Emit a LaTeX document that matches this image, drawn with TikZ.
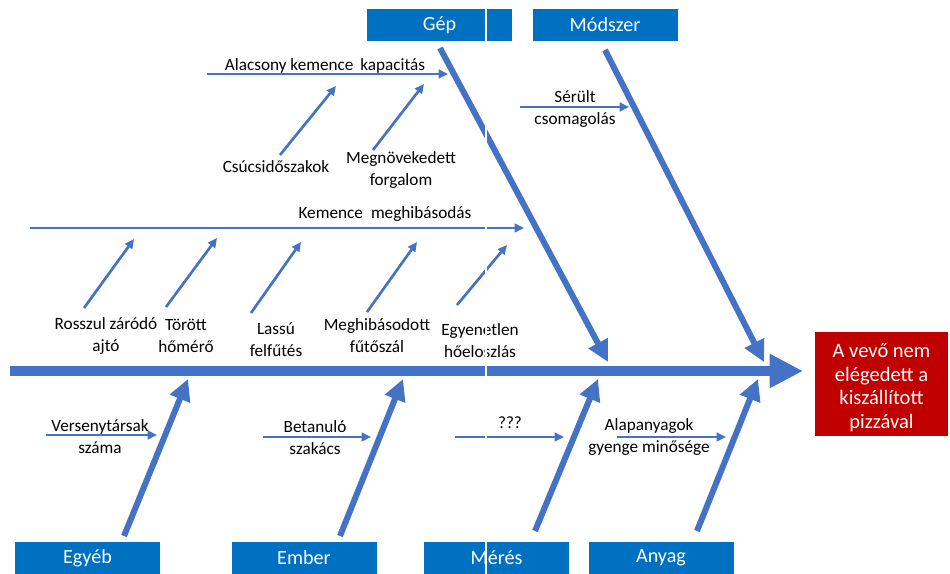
\documentclass[tikz,border=0pt]{standalone}
\usepackage{fontspec}
\setmainfont{Carlito}
\usetikzlibrary{arrows.meta}
\definecolor{bone}{HTML}{4472C4}
\definecolor{catblue}{HTML}{0070C0}
\definecolor{effectred}{HTML}{C00000}
\begin{document}
\begin{tikzpicture}[x=0.75pt,y=-0.75pt,
  catbox/.style={fill=catblue, text=white, inner sep=0pt,
    minimum width=108.75pt, minimum height=24.5pt,
    font=\fontsize{15.1}{17}\selectfont},
  effectbox/.style={fill=effectred, inner sep=0pt,
    minimum width=99.75pt, minimum height=78pt},
  effecttext/.style={text=white, inner sep=0pt, align=center,
    font=\fontsize{15.4}{17.6}\selectfont},
  lbl/.style={inner sep=0pt, align=center, font=\fontsize{12.9}{16.5}\selectfont},
  spine/.style={draw=bone, line width=7.5pt, -{Triangle[length=25pt,width=24pt]}},
  mainbone/.style={draw=bone, line width=4.5pt, -{Triangle[length=16pt,width=15.5pt]}},
  subarrow/.style={draw=bone, line width=2pt, -{Triangle[length=7pt,width=6.5pt]}}
]
\useasboundingbox (0,0) rectangle (950,574);

% ---- category boxes and effect ----
\node[catbox] (gep)     at (439.5,25)   {Gép};
\node[catbox] (modszer) at (605,25)     {Módszer};
\node[catbox] (egyeb)   at (87.5,558)   {Egyéb};
\node[catbox] (ember)   at (304,558)    {Ember};
\node[catbox] (meres)   at (496.5,558)  {Mérés};
\node[catbox] (anyag)   at (661,558)    {Anyag};
\node[effectbox] (effect) at (881.5,384) {};
\node[effecttext] (effectlbl) at (881.5,387.5)
  {A vevő nem\\elégedett a\\kiszállított\\pizzával};

% ---- spine ----
\coordinate (spineL) at (10,371);
\coordinate (spineR) at (803,371);
\draw[spine] (spineL) -- (spineR);

% ---- main bones ----
\coordinate (gepS) at (440,48);   \coordinate (gepE) at (608,362);
\coordinate (modS) at (605,50);   \coordinate (modE) at (764,362);
\coordinate (egyS) at (124,536);  \coordinate (egyE) at (188,379);
\coordinate (embS) at (340,536);  \coordinate (embE) at (403,379);
\coordinate (merS) at (535,531);  \coordinate (merE) at (598,379);
\coordinate (anyS) at (697,531);  \coordinate (anyE) at (758,379);
\draw[mainbone] (gepS) -- (gepE);
\draw[mainbone] (modS) -- (modE);
\draw[mainbone] (egyS) -- (egyE);
\draw[mainbone] (embS) -- (embE);
\draw[mainbone] (merS) -- (merE);
\draw[mainbone] (anyS) -- (anyE);

% ---- Gép: oven capacity ----
\coordinate (capS) at (207,74);  \coordinate (capE) at (448,74);
\draw[subarrow] (capS) -- (capE);
\node[lbl] (cap) at (325,66) {Alacsony kemence\hspace{0.4em}kapacitás};
\node[lbl] (peak) at (276,167) {Csúcsidőszakok};
\node[lbl] (traffic) at (401,170) {Megnövekedett\\forgalom};
\coordinate (peakS) at (280,155); \coordinate (peakE) at (336,86);
\coordinate (trafS) at (373,150); \coordinate (trafE) at (424,84);
\draw[subarrow] (peakS) -- (peakE);
\draw[subarrow] (trafS) -- (trafE);

% ---- Gép: oven failure ----
\coordinate (failS) at (30,228);  \coordinate (failE) at (524,228);
\draw[subarrow] (failS) -- (failE);
\node[lbl] (fail) at (385,214) {Kemence\hspace{0.47em}meghibásodás};
\node[lbl] (door)   at (106,336) {Rosszul záródó\\ajtó};
\node[lbl] (thermo) at (186,336) {Törött\\hőmérő};
\node[lbl] (slow)   at (276,340) {Lassú\\felfűtés};
\node[lbl] (coil)   at (377,336) {Meghibásodott\\fűtőszál};
\node[lbl] (heat)   at (480,341) {Egyenetlen\\hőeloszlás};
\coordinate (doorS) at (84,308);   \coordinate (doorE) at (134,239);
\coordinate (thS)   at (166,307);  \coordinate (thE)   at (217,238);
\coordinate (slS)   at (251,313);  \coordinate (slE)   at (301,242);
\coordinate (coS)   at (367,312);  \coordinate (coE)   at (417,242);
\coordinate (heS)   at (457,305);  \coordinate (heE)   at (507,245);
\draw[subarrow] (doorS) -- (doorE);
\draw[subarrow] (thS) -- (thE);
\draw[subarrow] (slS) -- (slE);
\draw[subarrow] (coS) -- (coE);
\draw[subarrow] (heS) -- (heE);

% ---- Módszer ----
\coordinate (pkgS) at (520,107); \coordinate (pkgE) at (629,107);
\draw[subarrow] (pkgS) -- (pkgE);
\node[lbl] (pkg) at (575,109) {Sérült\\csomagolás};

% ---- lower causes ----
\coordinate (compS) at (46,435);  \coordinate (compE) at (157,435);
\coordinate (cookS) at (263,437); \coordinate (cookE) at (371,437);
\coordinate (qS)    at (455,437); \coordinate (qE)    at (564,437);
\coordinate (rawS)  at (617,437); \coordinate (rawE)  at (726,437);
\draw[subarrow] (compS) -- (compE);
\draw[subarrow] (cookS) -- (cookE);
\draw[subarrow] (qS) -- (qE);
\draw[subarrow] (rawS) -- (rawE);
\node[lbl] (comp) at (100,437) {Versenytársak\\száma};
\node[lbl] (cook) at (315,438) {Betanuló\\szakács};
\node[lbl] (q)    at (510,423) {???};
\node[lbl] (raw)  at (649,437) {Alapanyagok\\gyenge minősége};

% ---- thin white seam ----
\coordinate (seamT) at (486,0); \coordinate (seamB) at (486,574);
\draw[white, line width=0.8pt] (seamT) -- (seamB);
\end{tikzpicture}
\end{document}
